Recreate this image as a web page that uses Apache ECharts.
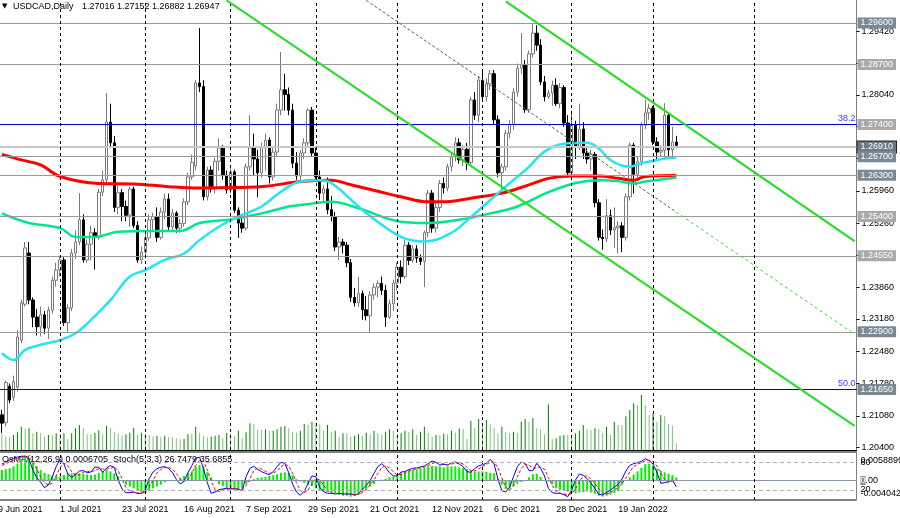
<!DOCTYPE html>
<html>
<head>
<meta charset="utf-8">
<title>USDCAD, Daily</title>
<script src="https://cdn.jsdelivr.net/npm/echarts@6/dist/echarts.min.js"></script>
<style>
html, body { margin: 0; padding: 0; background: #fff; }
#chart { width: 900px; height: 518px; }
</style>
</head>
<body>
<div id="chart"></div>
<script>
// USDCAD D1, свечи [open, close, low, high] с 10 Jun 2021 (индекс 1)
const ohlc = [
  [1.2110,1.2092,1.2071,1.2121],[1.2093,1.2180,1.2085,1.2185],[1.2172,1.2142,1.2135,1.2178],[1.2148,1.2182,1.2140,1.2195],[1.2170,1.2279,1.2160,1.2294],
  [1.2272,1.2353,1.2265,1.2360],[1.2350,1.2472,1.2345,1.2485],[1.2461,1.2359,1.2350,1.2485],[1.2359,1.2322,1.2300,1.2365],[1.2322,1.2301,1.2282,1.2340],
  [1.2301,1.2327,1.2280,1.2345],[1.2327,1.2298,1.2285,1.2335],[1.2298,1.2337,1.2275,1.2345],[1.2337,1.2402,1.2330,1.2410],[1.2402,1.2424,1.2388,1.2440],
  [1.2424,1.2446,1.2410,1.2455],[1.2446,1.2310,1.2303,1.2452],[1.2310,1.2342,1.2290,1.2350],[1.2342,1.2461,1.2335,1.2470],[1.2461,1.2485,1.2448,1.2510],
  [1.2485,1.2533,1.2478,1.2591],[1.2533,1.2446,1.2440,1.2545],[1.2446,1.2480,1.2440,1.2490],[1.2480,1.2505,1.2445,1.2520],[1.2505,1.2495,1.2425,1.2515],
  [1.2495,1.2593,1.2490,1.2600],[1.2593,1.2620,1.2585,1.2640],[1.2620,1.2745,1.2612,1.2808],[1.2745,1.2700,1.2690,1.2785],[1.2700,1.2560,1.2550,1.2715],
  [1.2560,1.2592,1.2545,1.2610],[1.2592,1.2562,1.2530,1.2600],[1.2562,1.2543,1.2530,1.2575],[1.2543,1.2600,1.2518,1.2605],[1.2600,1.2521,1.2515,1.2605],
  [1.2521,1.2446,1.2440,1.2530],[1.2446,1.2463,1.2437,1.2475],[1.2463,1.2494,1.2455,1.2505],[1.2494,1.2533,1.2488,1.2545],[1.2533,1.2540,1.2510,1.2548],
  [1.2540,1.2495,1.2485,1.2560],[1.2495,1.2550,1.2490,1.2560],[1.2550,1.2578,1.2535,1.2590],[1.2578,1.2518,1.2510,1.2590],[1.2518,1.2548,1.2510,1.2556],
  [1.2548,1.2515,1.2505,1.2552],[1.2515,1.2525,1.2505,1.2535],[1.2525,1.2572,1.2518,1.2580],[1.2572,1.2626,1.2565,1.2635],[1.2626,1.2658,1.2620,1.2675],
  [1.2650,1.2830,1.2640,1.2836],[1.2830,1.2822,1.2810,1.2949],[1.2822,1.2583,1.2575,1.2836],[1.2583,1.2641,1.2575,1.2648],[1.2641,1.2600,1.2592,1.2650],
  [1.2600,1.2660,1.2590,1.2668],[1.2660,1.2689,1.2640,1.2710],[1.2689,1.2630,1.2620,1.2695],[1.2630,1.2598,1.2590,1.2640],[1.2598,1.2637,1.2590,1.2645],
  [1.2637,1.2554,1.2548,1.2642],[1.2554,1.2526,1.2494,1.2560],[1.2526,1.2515,1.2505,1.2545],[1.2515,1.2648,1.2510,1.2655],[1.2648,1.2689,1.2640,1.2760],
  [1.2689,1.2665,1.2630,1.2720],[1.2665,1.2635,1.2582,1.2685],[1.2635,1.2690,1.2625,1.2700],[1.2690,1.2706,1.2640,1.2720],[1.2706,1.2626,1.2612,1.2712],
  [1.2626,1.2680,1.2618,1.2690],[1.2680,1.2771,1.2670,1.2785],[1.2771,1.2815,1.2760,1.2897],[1.2815,1.2805,1.2770,1.2850],[1.2805,1.2771,1.2760,1.2820],
  [1.2771,1.2656,1.2645,1.2785],[1.2656,1.2628,1.2620,1.2680],[1.2628,1.2678,1.2620,1.2685],[1.2678,1.2700,1.2665,1.2710],[1.2700,1.2771,1.2690,1.2775],
  [1.2771,1.2678,1.2670,1.2778],[1.2678,1.2626,1.2615,1.2690],[1.2626,1.2591,1.2576,1.2640],[1.2591,1.2600,1.2570,1.2608],[1.2600,1.2555,1.2545,1.2625],
  [1.2555,1.2540,1.2530,1.2585],[1.2540,1.2474,1.2465,1.2550],[1.2474,1.2485,1.2446,1.2496],[1.2485,1.2478,1.2460,1.2492],[1.2478,1.2440,1.2430,1.2485],
  [1.2440,1.2365,1.2355,1.2448],[1.2365,1.2353,1.2345,1.2385],[1.2353,1.2373,1.2344,1.2409],[1.2373,1.2338,1.2316,1.2380],[1.2338,1.2325,1.2315,1.2368],
  [1.2325,1.2370,1.2290,1.2378],[1.2370,1.2387,1.2360,1.2395],[1.2387,1.2395,1.2365,1.2402],[1.2395,1.2380,1.2370,1.2410],[1.2380,1.2322,1.2301,1.2392],
  [1.2322,1.2351,1.2318,1.2360],[1.2351,1.2396,1.2335,1.2403],[1.2396,1.2430,1.2380,1.2440],[1.2430,1.2410,1.2395,1.2445],[1.2410,1.2478,1.2405,1.2490],
  [1.2478,1.2445,1.2435,1.2485],[1.2445,1.2470,1.2440,1.2478],[1.2470,1.2450,1.2440,1.2478],[1.2450,1.2443,1.2435,1.2458],[1.2443,1.2505,1.2387,1.2510],
  [1.2505,1.2591,1.2495,1.2598],[1.2591,1.2515,1.2505,1.2598],[1.2515,1.2560,1.2505,1.2570],[1.2560,1.2612,1.2550,1.2620],[1.2612,1.2602,1.2590,1.2625],
  [1.2602,1.2648,1.2595,1.2655],[1.2648,1.2670,1.2638,1.2678],[1.2670,1.2700,1.2660,1.2712],[1.2700,1.2663,1.2655,1.2710],[1.2663,1.2686,1.2650,1.2695],
  [1.2686,1.2657,1.2641,1.2700],[1.2657,1.2793,1.2650,1.2800],[1.2793,1.2760,1.2750,1.2810],[1.2760,1.2836,1.2745,1.2845],[1.2836,1.2800,1.2790,1.2858],
  [1.2800,1.2828,1.2790,1.2840],[1.2828,1.2850,1.2815,1.2858],[1.2850,1.2750,1.2740,1.2858],[1.2750,1.2635,1.2625,1.2760],[1.2635,1.2648,1.2600,1.2655],
  [1.2648,1.2721,1.2640,1.2728],[1.2721,1.2740,1.2710,1.2750],[1.2740,1.2810,1.2728,1.2818],[1.2810,1.2862,1.2800,1.2872],[1.2862,1.2870,1.2850,1.2938],
  [1.2870,1.2772,1.2765,1.2880],[1.2772,1.2893,1.2765,1.2900],[1.2893,1.2938,1.2885,1.2960],[1.2938,1.2912,1.2900,1.2955],[1.2912,1.2832,1.2825,1.2925],
  [1.2832,1.2800,1.2790,1.2845],[1.2800,1.2808,1.2795,1.2815],[1.2808,1.2825,1.2780,1.2835],[1.2825,1.2785,1.2780,1.2840],[1.2785,1.2820,1.2775,1.2830],
  [1.2820,1.2743,1.2735,1.2825],[1.2743,1.2635,1.2625,1.2760],[1.2635,1.2740,1.2630,1.2770],[1.2740,1.2690,1.2665,1.2748],[1.2690,1.2730,1.2685,1.2785],
  [1.2730,1.2678,1.2665,1.2745],[1.2678,1.2665,1.2655,1.2690],[1.2665,1.2675,1.2640,1.2685],[1.2675,1.2570,1.2560,1.2680],[1.2570,1.2495,1.2488,1.2578],
  [1.2495,1.2492,1.2468,1.2512],[1.2492,1.2542,1.2485,1.2578],[1.2542,1.2511,1.2500,1.2555],[1.2511,1.2516,1.2472,1.2560],[1.2516,1.2520,1.2460,1.2530],
  [1.2520,1.2495,1.2463,1.2528],[1.2495,1.2583,1.2488,1.2590],[1.2583,1.2695,1.2575,1.2700],[1.2695,1.2632,1.2590,1.2700],[1.2632,1.2660,1.2625,1.2670],
  [1.2660,1.2738,1.2650,1.2745],[1.2738,1.2765,1.2730,1.2793],[1.2765,1.2775,1.2750,1.2785],[1.2775,1.2702,1.2695,1.2780],[1.2702,1.2680,1.2665,1.2712],
  [1.2680,1.2684,1.2670,1.2695],[1.2684,1.2760,1.2665,1.2786],[1.2760,1.2685,1.2668,1.2765],[1.2685,1.2702,1.2670,1.2735],[1.27016,1.26947,1.26882,1.27152]
];

// тиковые объёмы
const volumes = [
  167,133,133,150,177,233,210,217,167,183, 167,133,150,150,167,157,167,110,167,217,
  250,217,157,157,173,197,157,243,223,183, 167,143,157,173,223,150,173,157,150,133,
  143,127,143,127,127,117,107,110,157,157, 233,173,143,127,133,143,150,117,173,167,
  143,193,117,177,267,260,200,200,207,190, 193,207,233,240,217,183,173,193,260,250,
  283,273,257,193,250,183,193,133,167,167, 133,143,157,143,173,157,193,167,150,183,
  207,193,157,167,193,183,207,150,183,233, 173,133,150,150,163,163,193,173,217,207,
  110,293,223,310,273,300,260,217,163,233, 183,167,183,173,283,310,283,317,217,207,
  157,457,110,117,143,150,150,150,167,193, 250,207,200,217,207,173,233,150,283,250,
  250,337,400,467,450,550,450,350,367,283, 350,337,260,243,67
];

// OsMA(12,26,9)
const osma = [
  0.0023,0.0025,0.0027,0.0031,0.0037,0.0047,0.0052,0.0049,0.0039,0.0031,
  0.0023,0.0017,0.0014,0.0011,0.0010,0.0009,0.0012,0.0016,0.0016,0.0017,
  0.0016,0.0015,0.0013,0.0012,0.0013,0.0017,0.0020,0.0023,0.0020,0.0016,
  0.0009,-0.0001,-0.0009,-0.0013,-0.0017,-0.0021,-0.0025,-0.0028,-0.0022,-0.0017,
  -0.0013,-0.0009,-0.0004,-0.0001,0.0001,0.0001,0.0005,0.0010,0.0017,0.0020,
  0.0031,0.0034,0.0031,0.0018,0.0007,-0.0001,-0.0008,-0.0012,-0.0017,-0.0019,
  -0.0020,-0.0020,-0.0017,-0.0007,-0.0002,0.0003,0.0006,0.0007,0.0008,0.0010,
  0.0012,0.0014,0.0017,0.0018,0.0017,0.0012,0.0003,-0.0002,-0.0005,-0.0009,
  -0.0012,-0.0017,-0.0022,-0.0024,-0.0025,-0.0027,-0.0028,-0.0031,-0.0033,-0.0033,
  -0.0035,-0.0034,-0.0031,-0.0025,-0.0020,-0.0013,-0.0007,-0.0001,0.0002,0.0004,
  0.0007,0.0009,0.0013,0.0017,0.0018,0.0021,0.0023,0.0025,0.0027,0.0029,
  0.0031,0.0032,0.0031,0.0031,0.0029,0.0031,0.0031,0.0031,0.0029,0.0028,
  0.0025,0.0022,0.0020,0.0020,0.0020,0.0019,0.0017,0.0016,0.0004,-0.0009,
  -0.0018,-0.0017,-0.0013,-0.0007,-0.0003,-0.0001,0.0007,0.0014,0.0015,0.0008,
  0.0001,-0.0002,-0.0008,-0.0017,-0.0020,-0.0022,-0.0024,-0.0026,-0.0028,-0.0026,
  -0.0025,-0.0024,-0.0026,-0.0029,-0.0033,-0.0035,-0.0033,-0.0031,-0.0027,-0.0023,
  -0.0009,0.0000,0.0007,0.0013,0.0020,0.0028,0.0036,0.0037,0.0032,0.0026,
  0.0021,0.0018,0.0015,0.0012,0.00067
];

// Stoch(5,3,3): основная и сигнальная
const stochMain = [
  77,81.5,86,89.6,92.5,94,94.7,87.4,64,47, 36.8,25,31,49.3,71.3,87.4,77,55,47.8,53.7,
  61.8,62.5,58,59.6,70.5,69.8,58.8,68.4,73.5,69.8, 42,22.2,14.1,14.1,15.6,12,12.7,19.3,45.6,59.6,
  66.9,69.8,71.3,67.6,58,43.4,33.2,39,58,73.5, 90.3,91.8,67.6,36,12.7,15.6,20.7,22.2,23.7,22.2,
  23,21.5,18.5,49.3,67.6,72,65.4,60.3,56.6,53.7, 60.3,71.3,80.8,78.6,58,33.2,15.6,8.3,17.1,34,
  50.8,49.3,25.9,16.3,12.7,12.7,11.2,12.7,11.2,11.2, 11.2,9,11.2,21.5,30.3,40.5,56.6,71.3,77.9,69.8,
  58,50.8,50.8,59.6,60.3,64.7,67.6,68.4,70.5,72.7, 77.9,83.7,80.8,74.9,76.4,74.9,80,81.5,77.1,71.3,
  60.3,58.8,67.6,72.7,75.7,78.6,87.4,77.1,43.4,18.5, 15.6,25.9,49.3,71.3,81.5,78.6,62.5,62.5,78.6,67.6,
  50.8,23.7,14.1,12.7,12.7,9.8,5.3,20,42,55.2, 52.2,44.9,34.7,23.7,10.5,9,14.1,20,26.6,32.4,
  44.1,61.7,74.2,77.9,80.1,83,88.8,84.5,77.1,58.8, 34.7,36.1,38.3,42,26.7479
];
const stochSignal = [
  74,78,82,86,89,92,94,92,82,66, 49,36,31,35,51,69,79,73,60,52,
  54,59,61,60,63,67,66,66,67,71, 62,45,26,17,15,14,13,15,26,42,
  57,65,69,70,66,56,45,39,43,57, 74,85,83,65,39,21,16,20,22,23,
  23,22,21,30,45,63,68,66,61,57, 57,62,71,77,72,57,36,19,14,20,
  34,45,42,31,18,14,12,12,12,12, 11,10,10,14,21,31,42,56,69,73,
  69,60,53,54,57,62,64,67,69,71, 74,78,81,80,77,75,77,79,80,77,
  70,63,62,66,72,76,81,81,69,46, 26,20,30,49,67,77,74,68,68,70,
  66,47,30,17,13,12,9,12,22,39, 50,51,44,34,23,14,11,14,20,26,
  34,46,60,71,77,80,84,85,83,73, 57,43,36,39,35.6855
];

// скользящие [индекс бара, цена]
const maRed = [[1,1.2675],[6,1.2663],[11,1.2652],[16,1.2627],[26,1.2612],[35,1.2611],[44,1.2605],[52,1.2602],[61,1.2603],[69,1.2606],[78,1.2616],[86,1.2619],[91,1.2609],[98,1.2595],[104,1.2583],[111,1.2572],[115,1.2572],[122,1.2580],[130,1.2591],[137,1.2609],[142,1.2623],[148,1.2628],[155,1.2628],[160,1.2623],[164,1.2619],[167,1.2627],[175,1.2629]];
const maAqua = [[1,1.2244],[4,1.2229],[7,1.2251],[11,1.2262],[16,1.2272],[20,1.2287],[24,1.2316],[29,1.2359],[34,1.2410],[38,1.2424],[43,1.2446],[48,1.2460],[52,1.2489],[57,1.2518],[62,1.2540],[68,1.2562],[73,1.2594],[78,1.2616],[83,1.2619],[86,1.2613],[95,1.2548],[104,1.2496],[110,1.2486],[117,1.2505],[122,1.2539],[130,1.2598],[137,1.2648],[141,1.2681],[146,1.2698],[152,1.2700],[155,1.2688],[158,1.2663],[163,1.2648],[166,1.2656],[170,1.2663],[175,1.2668]];
const maGreen = [[1,1.2547],[8,1.2526],[16,1.2515],[20,1.2496],[25,1.2496],[31,1.2507],[39,1.2509],[47,1.2509],[52,1.2526],[60,1.2534],[68,1.2547],[75,1.2562],[78,1.2565],[86,1.2572],[93,1.2558],[104,1.2529],[111,1.2526],[119,1.2533],[127,1.2547],[134,1.2562],[142,1.2593],[149,1.2613],[155,1.2619],[160,1.2617],[164,1.2612],[167,1.2616],[175,1.2625]];

// уровни
const levels = [1.2960, 1.2870, 1.2740, 1.2691, 1.2670, 1.2630, 1.2540, 1.2455, 1.2290, 1.2165];
const fibLevels = [[1.2740, '38.2'], [1.2165, '50.0']];
const priceTicks = [1.20400, 1.21080, 1.21780, 1.22480, 1.23180, 1.23860, 1.24560, 1.25260, 1.25960, 1.26660, 1.27350, 1.28040, 1.28730, 1.29420];
const osmaTicks = [-0.004042, 0, 0.0058899];
const stochTicks = [20, 80];
const gridBars = [16, 38, 60, 82, 103, 125, 148, 169, 195];
const lastBar = 175;

// трендовые линии (индекс бара, цена)
const channelLines = [
  [[59, 1.3009], [221, 1.2086]],
  [[131, 1.3007], [221, 1.2487]]
];
const midLine = [[95, 1.3009], [175, 1.2550]];
const midLineRay = [[175, 1.2550], [221, 1.2285]];

// даты: будни начиная с 9 Jun 2021
const months = ['Jan','Feb','Mar','Apr','May','Jun','Jul','Aug','Sep','Oct','Nov','Dec'];
const dates = [];
let d = new Date(Date.UTC(2021, 5, 9));
while (dates.length < 222) {
  const wd = d.getUTCDay();
  if (wd !== 0 && wd !== 6) dates.push(d.getUTCDate() + ' ' + months[d.getUTCMonth()] + ' ' + d.getUTCFullYear());
  d = new Date(d.getTime() + 86400000);
}

const boxColor = {1.2960:'#7b8895', 1.2870:'#a9a9a9', 1.2740:'#a9a9a9', 1.2691:'#6a7887', 1.2670:'#7b8895', 1.2630:'#7b8895', 1.2540:'#a9a9a9', 1.2455:'#a9a9a9', 1.2290:'#7b8895', 1.2165:'#7b8895'};
const font = 'Liberation Sans, Arial, sans-serif';
const dashLine = { color: '#000', width: 1, type: [3, 3] };

const pad = ['-'];
const candleData = pad.concat(ohlc);
const volData = pad.concat(volumes);
const osmaData = pad.concat(osma);
const stochData = pad.concat(stochMain);
const signalData = pad.concat(stochSignal);
const empty = dates.map(() => null);

const isFib = v => fibLevels.some(f => f[0] === v);
const levelMarks = levels.map(v => ({
  yAxis: v,
  lineStyle: { color: v === 1.2691 ? '#c8c8c8' : (isFib(v) ? '#0000c8' : '#9a9a9a'), width: v === 1.2691 ? 2 : 1, type: 'solid' },
  label: {
    show: true, position: 'end', distance: 1, formatter: v.toFixed(5),
    color: '#fff', backgroundColor: boxColor[v], padding: [1, 3, 0, 3],
    fontSize: 9, fontFamily: font, lineHeight: 10,
    borderColor: v === 1.2691 ? '#222' : 'transparent', borderWidth: v === 1.2691 ? 1 : 0
  }
}));
const fibMarks = fibLevels.map(f => ({
  yAxis: f[0],
  lineStyle: { color: '#0000c8', width: 1, type: 'solid' },
  label: { show: true, position: 'insideEndTop', distance: 1, formatter: f[1], color: '#3a3aff', fontSize: 9, fontFamily: font }
}));
const vMarks = gridBars.map(i => ({ xAxis: dates[i], lineStyle: dashLine }));

const chart = echarts.init(document.getElementById('chart'));
chart.setOption({
  animation: false,
  backgroundColor: '#fff',
  graphic: [
    { type: 'text', left: 2, top: 3, style: { text: '\u25BC', fill: '#000', font: '7px DejaVu Sans' } },
    { type: 'text', left: 13, top: 2, style: { text: 'USDCAD,Daily', fill: '#000', font: '9px ' + font } },
    { type: 'text', left: 82, top: 2, style: { text: '1.27016 1.27152 1.26882 1.26947', fill: '#000', font: '9px ' + font } },
    { type: 'text', left: 2, top: 455, style: { text: 'OsMA(12,26,9) 0.0006705  Stoch(5,3,3) 26.7479 35.6855', fill: '#000', font: '9px ' + font } }
  ],
  grid: [
    { left: -3.9, right: 43.5, top: 0, height: 450, outerBoundsMode: 'none' },
    { left: -3.9, right: 43.5, top: 452, height: 48, show: true, borderColor: '#000', borderWidth: 1, outerBoundsMode: 'none' }
  ],
  xAxis: [
    { type: 'category', gridIndex: 0, data: dates, boundaryGap: true,
      axisLine: { show: true, lineStyle: { color: '#000' } }, axisTick: { show: false }, axisLabel: { show: false }, splitLine: { show: false } },
    { type: 'category', gridIndex: 1, data: dates, boundaryGap: true,
      axisLine: { show: false }, axisTick: { show: false }, splitLine: { show: false },
      axisLabel: { interval: (i) => i % 16 === 0 && i <= lastBar, align: 'left', fontSize: 9, color: '#000', fontFamily: font, margin: 5 } }
  ],
  yAxis: [
    { type: 'value', gridIndex: 0, position: 'right', min: 1.203375, max: 1.300989,
      axisLine: { show: true, lineStyle: { color: '#808080' } },
      axisTick: { show: true, length: 3, customValues: priceTicks, lineStyle: { color: '#000' } },
      axisLabel: { customValues: priceTicks, formatter: v => v.toFixed(5), fontSize: 9, color: '#000', fontFamily: font, margin: 5 },
      splitLine: { show: false } },
    { type: 'value', gridIndex: 0, min: 0, max: 4500, show: false },
    { type: 'value', gridIndex: 1, position: 'right', min: -0.004238, max: 0.006239,
      axisLine: { show: true, lineStyle: { color: '#808080' } }, axisTick: { show: false }, splitLine: { show: false },
      axisLabel: { customValues: osmaTicks, margin: 4, fontSize: 9, color: '#000', fontFamily: font,
        formatter: v => v === 0 ? '{z|0}{t|.00}' : (v > 0 ? '{top|' + v + '}' : '{bot|' + v + '}'),
        rich: {
          z: { backgroundColor: '#8c8c8c', color: '#fff', fontSize: 9, fontFamily: font },
          t: { fontSize: 9, fontFamily: font, color: '#000' },
          top: { fontSize: 9, fontFamily: font, color: '#000', padding: [14, 0, 0, 0] },
          bot: { fontSize: 9, fontFamily: font, color: '#000', padding: [0, 0, 11, 0] }
        } } },
    { type: 'value', gridIndex: 1, position: 'right', min: -2, max: 103.5,
      axisLine: { show: false }, axisTick: { show: false }, splitLine: { show: false },
      axisLabel: { customValues: stochTicks, margin: 4, fontSize: 9, color: '#000', fontFamily: font } }
  ],
  series: [
    { name: 'levels', type: 'line', xAxisIndex: 0, yAxisIndex: 0, data: empty, z: 1, silent: true, symbol: 'none',
      markLine: { symbol: ['none', 'none'], silent: true, precision: 5, label: { show: false }, data: levelMarks.concat(fibMarks, vMarks) } },
    { name: 'Volumes', type: 'bar', xAxisIndex: 0, yAxisIndex: 1, data: volData, barWidth: 1, z: 1, silent: true,
      itemStyle: { color: p => (p.dataIndex > 1 && volData[p.dataIndex] > volData[p.dataIndex - 1]) ? '#008000' : '#7cc27c' } },
    { name: 'USDCAD', type: 'candlestick', xAxisIndex: 0, yAxisIndex: 0, data: candleData, barWidth: 3, z: 2, silent: true,
      itemStyle: { color: '#ffffff', color0: '#000000', borderColor: '#7a7a7a', borderColor0: '#000000', borderColorDoji: '#7a7a7a', borderWidth: 1 } },
    { name: 'MA200', type: 'line', xAxisIndex: 0, yAxisIndex: 0, data: maRed, smooth: 0.4, symbol: 'none', z: 3, silent: true,
      lineStyle: { color: '#ff0000', width: 3 } },
    { name: 'MA100', type: 'line', xAxisIndex: 0, yAxisIndex: 0, data: maGreen, smooth: 0.4, symbol: 'none', z: 3, silent: true,
      lineStyle: { color: '#00e68a', width: 2.5 } },
    { name: 'MA50', type: 'line', xAxisIndex: 0, yAxisIndex: 0, data: maAqua, smooth: 0.4, symbol: 'none', z: 3, silent: true,
      lineStyle: { color: '#22e6f2', width: 2.5 } },
    { name: 'trend', type: 'line', xAxisIndex: 0, yAxisIndex: 0, data: empty, z: 4, silent: true, symbol: 'none',
      markLine: { symbol: ['none', 'none'], silent: true, precision: 5, label: { show: false },
        data: channelLines.map(l => [
          { coord: l[0], lineStyle: { color: '#1ee01e', width: 2, type: 'solid' } },
          { coord: l[1] }
        ]).concat([
          [{ coord: midLine[0], lineStyle: { color: '#606060', width: 1, type: [3, 2] } }, { coord: midLine[1] }],
          [{ coord: midLineRay[0], lineStyle: { color: '#33dd33', width: 1, type: [3, 3] } }, { coord: midLineRay[1] }]
        ]) } },
    { name: 'OsMA', type: 'bar', xAxisIndex: 1, yAxisIndex: 2, data: osmaData, barWidth: 2, z: 2, silent: true,
      itemStyle: { color: '#00f000' },
      markLine: { symbol: ['none', 'none'], silent: true, precision: 7, label: { show: false },
        data: [{ yAxis: 0, lineStyle: { color: '#8595a5', width: 1, type: 'solid' } }].concat(vMarks) } },
    { name: 'Stoch', type: 'line', xAxisIndex: 1, yAxisIndex: 3, data: stochData, symbol: 'none', z: 3, silent: true,
      lineStyle: { color: '#0000ff', width: 1 },
      markLine: { symbol: ['none', 'none'], silent: true, label: { show: false },
        data: stochTicks.map(v => ({ yAxis: v, lineStyle: { color: '#b0b0b0', width: 1, type: [4, 3] } })) } },
    { name: 'Signal', type: 'line', xAxisIndex: 1, yAxisIndex: 3, data: signalData, symbol: 'none', z: 3, silent: true,
      lineStyle: { color: '#ff0000', width: 1, type: [3, 2] } }
  ]
});
</script>
</body>
</html>
